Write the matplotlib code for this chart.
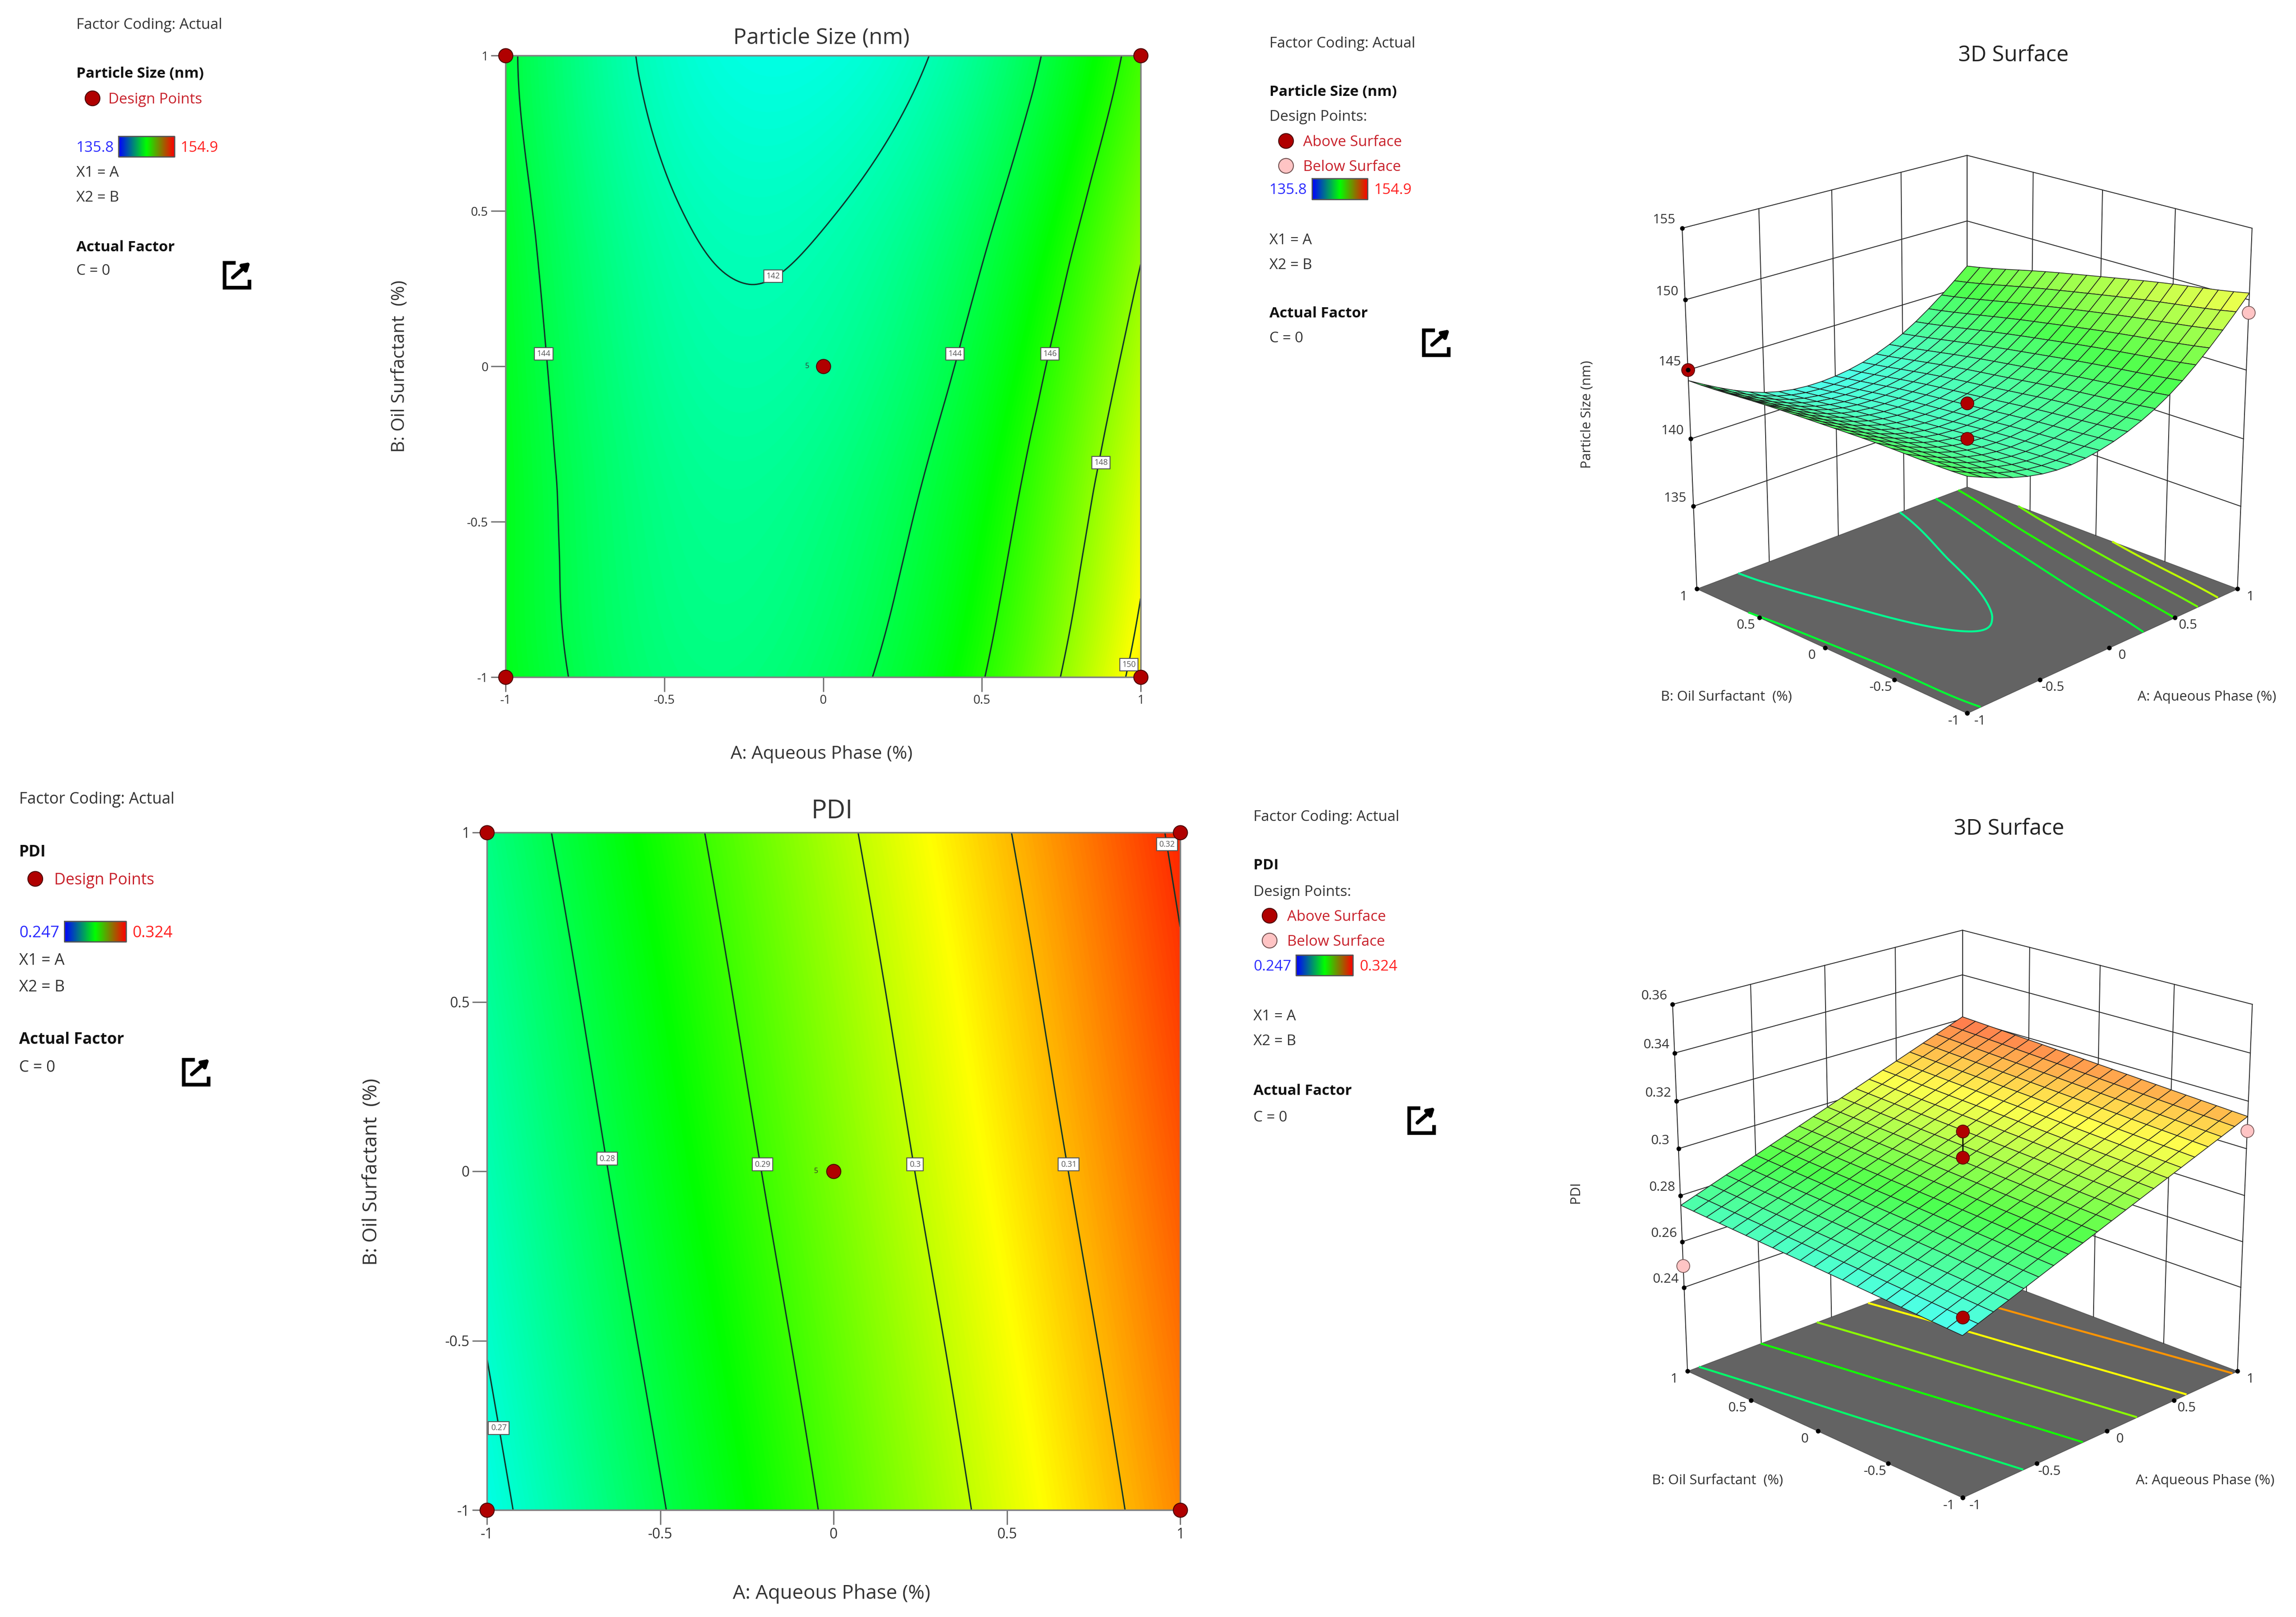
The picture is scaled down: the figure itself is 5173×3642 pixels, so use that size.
import numpy as np
import matplotlib
matplotlib.use("Agg")
import matplotlib.pyplot as plt
import matplotlib.tri as mtri
from matplotlib.colors import LinearSegmentedColormap, Normalize
from mpl_toolkits.mplot3d import proj3d
from mpl_toolkits.mplot3d.art3d import Poly3DCollection

plt.rcParams['font.family'] = ['Open Sans', 'DejaVu Sans']

W, H = 5173, 3642
S = W / 1568  # side texts below were measured on a 1568 wide view

AXIS_TICKS = [-1, -0.5, 0, 0.5, 1]
TICK_LABELS = ['-1', '-0.5', '0', '0.5', '1']

# rows: B = -1 ... 1, columns: A = -1 ... 1
SIZE_VALUES = [
    [144.86, 143.11, 143.47, 145.93, 150.48],
    [144.82, 142.87, 143.02, 145.26, 149.61],
    [144.71, 142.54, 142.48, 144.52, 148.66],
    [144.51, 142.14, 141.92, 143.69, 147.62],
    [144.24, 141.66, 141.18, 142.79, 146.51],
]
PDI_VALUES = [
    [0.2683, 0.2796, 0.2910, 0.3023, 0.3136],
    [0.2702, 0.2815, 0.2928, 0.3041, 0.3154],
    [0.2721, 0.2834, 0.2947, 0.3060, 0.3173],
    [0.2739, 0.2852, 0.2965, 0.3078, 0.3192],
    [0.2758, 0.2871, 0.2984, 0.3097, 0.3210],
]
SIZE_RANGE = (135.8, 154.9)
PDI_RANGE = (0.247, 0.324)

SIZE_LEVELS = [142, 144, 146, 148, 150]
PDI_LEVELS = [0.27, 0.28, 0.29, 0.30, 0.31, 0.32]
# the floors of the 3D views use their own levels
SIZE_FLOOR_LEVELS = [142.6, 144.45, 145.9, 147.4, 148.9]
PDI_FLOOR_LEVELS = [0.2775, 0.287, 0.296, 0.3045, 0.3127]

# text, A, B of the boxes sitting on the contour lines
SIZE_BOXES = [('142', -0.157, 0.29), ('144', -0.88, 0.04), ('144', 0.415, 0.04),
              ('146', 0.714, 0.04), ('148', 0.875, -0.31), ('150', 0.963, -0.96)]
PDI_BOXES = [('0.27', -0.966, -0.758), ('0.28', -0.653, 0.037), ('0.29', -0.205, 0.02),
             ('0.3', 0.235, 0.02), ('0.31', 0.678, 0.02), ('0.32', 0.962, 0.965)]

DESIGN_A = [-1, -1, 1, 1, 0]
DESIGN_B = [-1, 1, 1, -1, 0]

SIZE_ZTICKS = [135, 140, 145, 150, 155]
PDI_ZTICKS = [0.24, 0.26, 0.28, 0.30, 0.32, 0.34, 0.36]
PDI_ZLABELS = ['0.24', '0.26', '0.28', '0.3', '0.32', '0.34', '0.36']

# A, B, response of the points in the 3D views
SIZE_ABOVE = ([-1, -1, 0], [1, -1, 0], [145.0, 147.3, 142.6])
SIZE_BELOW = ([1], [-1], [149.1])
PDI_ABOVE = ([-1, 0, 0], [-1, 0, 0], [0.2755, 0.3074, 0.2963])
PDI_BELOW = ([-1, 1], [1, -1], [0.2494, 0.3076])
PDI_STEM = [0.2963, 0.3074]

surface_cmap = LinearSegmentedColormap.from_list(
    'rsm', ['#0000ff', '#00ffff', '#00ff00', '#ffff00', '#ff0000'])
legend_cmap = LinearSegmentedColormap.from_list(
    'rsm_legend', ['#0000ff', '#00ff00', '#ff0000'])

DARK_RED = '#b00000'
PINK = '#ffc4c4'
TEXT = '#333333'
RED_TEXT = '#c8202a'


def response(values, a, b):
    A, B = np.meshgrid(AXIS_TICKS, AXIS_TICKS)
    tri = mtri.Triangulation(A.ravel(), B.ravel())
    f = mtri.CubicTriInterpolator(tri, np.ravel(values), kind='min_E')
    return f(a, b)


def contour_panel(rect, values, vrange, levels, boxes, font):
    left, top, right, bottom = rect
    ax = fig.add_axes([left / W, 1 - bottom / H, (right - left) / W, (bottom - top) / H])
    grid = np.linspace(-0.9999, 0.9999, 241)
    a, b = np.meshgrid(grid, grid)
    z = response(values, a, b)
    ax.imshow(z, extent=(-1, 1, -1, 1), origin='lower', aspect='auto', cmap=surface_cmap,
              norm=Normalize(*vrange), interpolation='bilinear')
    ax.contour(a, b, z, levels=levels, colors='#10352a', linewidths=2.2)
    for label, x, y in boxes:
        ax.text(x, y, label, fontsize=13, color='#555555', ha='center', va='center', zorder=6,
                bbox=dict(boxstyle='square,pad=0.3', fc='white', ec='#555555', lw=1.5))
    ax.plot(DESIGN_A, DESIGN_B, 'o', ms=23, mfc=DARK_RED, mec='#4a0000', mew=1.5,
            clip_on=False, zorder=8)
    ax.text(-0.05, 0, '5', fontsize=12, color='#333333', ha='center', va='center', zorder=7)
    ax.set_xlim(-1, 1)
    ax.set_ylim(-1, 1)
    ax.set_xticks(AXIS_TICKS, TICK_LABELS)
    ax.set_yticks(AXIS_TICKS, TICK_LABELS)
    ax.tick_params(length=24, width=2.2, color='#777777', labelsize=font, labelcolor=TEXT, pad=4)
    for spine in ax.spines.values():
        spine.set_color('#808080')
        spine.set_linewidth(2.5)
    return ax


def place_3d(ax, zmin, left_px, right_px, floor_px):
    # move the square axes so that the side corners of the floor land on these pixels
    M = ax.get_proj()
    ul, vl, _ = proj3d.proj_transform(-1, 1, zmin, M)
    ur, _, _ = proj3d.proj_transform(1, -1, zmin, M)
    x0, x1 = ax.viewLim.x0, ax.viewLim.x1
    y0, y1 = ax.viewLim.y0, ax.viewLim.y1
    side = (right_px - left_px) / (ur - ul) * (x1 - x0)
    px_left = left_px - (ul - x0) / (x1 - x0) * side
    px_bottom = (H - floor_px) - (vl - y0) / (y1 - y0) * side
    ax.set_position([px_left / W, px_bottom / H, side / W, side / H])


def tick_note(ax, x, y, z, text, dx, dy):
    u, v, _ = proj3d.proj_transform(x, y, z, ax.get_proj())
    ax.annotate(text, (u, v), xytext=(dx, dy), textcoords='offset pixels', fontsize=21.5,
                color=TEXT, ha='center', va='center', annotation_clip=False, zorder=12)


def surface_panel(values, vrange, levels, zmin, zmax, zticks, zlabels, above, below,
                  left_px, right_px, floor_px, zaspect, elev, stem=None):
    ax = fig.add_axes([0.7, 0.1, 0.25, 0.25], projection='3d', computed_zorder=False)
    ax.set_axis_off()
    ax.patch.set_alpha(0)
    ax.set_proj_type('persp', focal_length=0.72)
    ax.view_init(elev=elev, azim=-135)
    ax.set_box_aspect((1, 1, zaspect))
    ax.set_xlim(-1, 1, view_margin=0)
    ax.set_ylim(-1, 1, view_margin=0)
    ax.set_zlim(zmin, zmax, view_margin=0)
    place_3d(ax, zmin, left_px, right_px, floor_px)

    wall = dict(color='#262626', lw=1.4, zorder=2)
    for t in AXIS_TICKS:
        ax.plot([t, t], [1, 1], [zmin, zmax], **wall)
        ax.plot([1, 1], [t, t], [zmin, zmax], **wall)
    for z in zticks:
        ax.plot([-1, 1], [1, 1], [z, z], **wall)
        ax.plot([1, 1], [1, -1], [z, z], **wall)

    floor = [[(-1, -1, zmin), (1, -1, zmin), (1, 1, zmin), (-1, 1, zmin)]]
    ax.add_collection3d(Poly3DCollection(floor, facecolor='#636363', edgecolor='#555555',
                                         linewidth=1, zorder=1))

    grid = np.linspace(-0.9999, 0.9999, 161)
    a, b = np.meshgrid(grid, grid)
    z = np.asarray(response(values, a, b))
    norm = Normalize(*vrange)
    ax.contour(a, b, z, levels=levels, zdir='z', offset=zmin, cmap=surface_cmap, norm=norm,
               linewidths=3.2, zorder=3)

    mesh = np.linspace(-0.9999, 0.9999, 21)
    a, b = np.meshgrid(mesh, mesh)
    z = np.asarray(response(values, a, b))
    colors = surface_cmap(norm(z))
    colors[..., :3] = 0.7 * colors[..., :3] + 0.3
    ax.plot_surface(a, b, z, facecolors=colors, rstride=1, cstride=1, shade=False,
                    edgecolor='#1c1c1c', linewidth=1.1, zorder=4)

    if stem is not None:
        ax.plot([0, 0], [0, 0], stem, color='black', lw=2, zorder=5)
    ax.plot(below[0], below[1], below[2], 'o', ms=21, mfc=PINK, mec='#705050', mew=1.2, ls='',
            zorder=6)
    ax.plot(above[0], above[1], above[2], 'o', ms=21, mfc=DARK_RED, mec='#4a0000', mew=1.2, ls='',
            zorder=7)

    dots = dict(color='black', marker='o', ms=6.5, ls='', zorder=8)
    ax.plot([-1] * 5, AXIS_TICKS, [zmin] * 5, **dots)
    ax.plot(AXIS_TICKS, [-1] * 5, [zmin] * 5, **dots)
    ax.plot([-1] * len(zticks), [1] * len(zticks), zticks, **dots)

    for t, label in zip(AXIS_TICKS, TICK_LABELS):
        tick_note(ax, -1, t, zmin, label, -30, -18)
        tick_note(ax, t, -1, zmin, label, 29, -18)
    for t, label in zip(zticks, zlabels):
        tick_note(ax, -1, 1, t, label, -41, 18)
    return ax


def put(x, y, text, size=24, color=TEXT, weight='normal', ha='left', rotation=0):
    over.text(x * S, (y + 1) * S, text, fontsize=size, color=color, fontweight=weight, ha=ha,
              va='center', rotation=rotation)


def legend_dot(x, y, face, edge):
    over.plot([x * S], [y * S], 'o', ms=24, mfc=face, mec=edge, mew=1.5)


def legend_bar(x0, x1, y0, y1):
    strip = np.linspace(0, 1, 128).reshape(1, -1)
    over.imshow(strip, extent=(x0 * S, x1 * S, y1 * S, y0 * S), aspect='auto', cmap=legend_cmap,
                interpolation='bilinear')
    over.plot(np.array([x0, x1, x1, x0, x0]) * S, np.array([y0, y0, y1, y1, y0]) * S,
              color='#555555', lw=2)


def share_icon(x, y):
    r = 8.5
    over.plot(np.array([x - 1, x - r, x - r, x + r, x + r]) * S,
              np.array([y - r, y - r, y + r, y + r, y + 3]) * S,
              color='black', lw=6, solid_joinstyle='miter', solid_capstyle='butt')
    over.annotate('', xy=((x + r + 0.5) * S, (y - r - 0.5) * S), xytext=((x - 3) * S, (y + 1.5) * S),
                  arrowprops=dict(arrowstyle='-|>,head_length=0.9,head_width=0.55', color='black',
                                  lw=6, shrinkA=0, shrinkB=0))


def side_notes(x, ys, title, lo, hi, bar, size, with_surface):
    put(x, ys['coding'], 'Factor Coding: Actual', size)
    put(x, ys['title'], title, size, color='#111111', weight='bold')
    if with_surface:
        put(x, ys['points'], 'Design Points:', size)
        legend_dot(x + 11, ys['above'], DARK_RED, '#4a0000')
        put(x + 23, ys['above'], 'Above Surface', size, RED_TEXT)
        legend_dot(x + 11, ys['below'], PINK, '#705050')
        put(x + 23, ys['below'], 'Below Surface', size, RED_TEXT)
    else:
        legend_dot(x + 11, ys['above'], DARK_RED, '#4a0000')
        put(x + ys['dx'], ys['above'], 'Design Points', size, RED_TEXT)
    put(x, ys['bar'], lo, size, '#2a2aff')
    legend_bar(bar[0], bar[1], ys['bar'] - 7, ys['bar'] + 7)
    put(bar[1] + 4.5, ys['bar'], hi, size, '#ff2020')
    put(x, ys['x1'], 'X1 = A', size)
    put(x, ys['x2'], 'X2 = B', size)
    put(x, ys['factor'], 'Actual Factor', size, color='#111111', weight='bold')
    put(x, ys['c'], 'C = 0', size)


fig = plt.figure(figsize=(W / 100, H / 100), dpi=100, facecolor='white')

contour_panel((1139, 125, 2570, 1525), SIZE_VALUES, SIZE_RANGE, SIZE_LEVELS, SIZE_BOXES, 20)
contour_panel((1097, 1875, 2659, 3401), PDI_VALUES, PDI_RANGE, PDI_LEVELS, PDI_BOXES, 23)

surface_panel(SIZE_VALUES, SIZE_RANGE, SIZE_FLOOR_LEVELS, 128.75, 155, SIZE_ZTICKS,
              [str(t) for t in SIZE_ZTICKS], SIZE_ABOVE, SIZE_BELOW, 3823, 5041, 1326, 0.98, 20.5)
surface_panel(PDI_VALUES, PDI_RANGE, PDI_FLOOR_LEVELS, 0.2026, 0.36, PDI_ZTICKS, PDI_ZLABELS,
              PDI_ABOVE, PDI_BELOW, 3802, 5041, 3088, 0.98, 20.5, stem=PDI_STEM)

over = fig.add_axes([0, 0, 1, 1], zorder=10)
over.set_axis_off()
over.patch.set_alpha(0)

side_notes(52, dict(coding=16, title=49.5, above=67, dx=22, bar=100, x1=117, x2=134, factor=168, c=184),
           'Particle Size (nm)', '135.8', '154.9', (81, 119), 24, False)
side_notes(867, dict(coding=29, title=62, points=79, above=96, below=113, bar=129, x1=163, x2=180,
                     factor=213, c=230),
           'Particle Size (nm)', '135.8', '154.9', (896, 934), 24, True)
side_notes(13, dict(coding=545, title=581, above=600, dx=24, bar=636, x1=655, x2=673, factor=709, c=728),
           'PDI', '0.247', '0.324', (44, 86), 25.7, False)
side_notes(856, dict(coding=557, title=590, points=608, above=625, below=642, bar=659, x1=693, x2=710,
                     factor=744, c=762),
           'PDI', '0.247', '0.324', (885, 924), 24, True)

share_icon(162, 188)
share_icon(981, 234)
share_icon(134, 732)
share_icon(971, 765)

put(561, 25, 'Particle Size (nm)', 36, ha='center')
put(568, 553, 'PDI', 42, ha='center')
put(1375, 37, '3D Surface', 35.5, ha='center', color='#222222')
put(1372, 565, '3D Surface', 35.5, ha='center', color='#222222')

put(561, 514, 'A: Aqueous Phase (%)', 29.5, ha='center')
put(568, 1087, 'A: Aqueous Phase (%)', 32, ha='center')
put(273, 249, 'B: Oil Surfactant  (%)', 29.5, ha='center', rotation=90)
put(254, 799, 'B: Oil Surfactant  (%)', 32, ha='center', rotation=90)

put(1179, 475, 'B: Oil Surfactant  (%)', 22.5, ha='center')
put(1507, 475, 'A: Aqueous Phase (%)', 22.5, ha='center')
put(1173, 1010, 'B: Oil Surfactant  (%)', 22.5, ha='center')
put(1506, 1010, 'A: Aqueous Phase (%)', 22.5, ha='center')
put(1084, 282, 'Particle Size (nm)', 22, ha='center', rotation=90)
put(1076, 813, 'PDI', 22, ha='center', rotation=90)

over.set_xlim(0, W)
over.set_ylim(H, 0)

fig.savefig('out.png', dpi=100)
